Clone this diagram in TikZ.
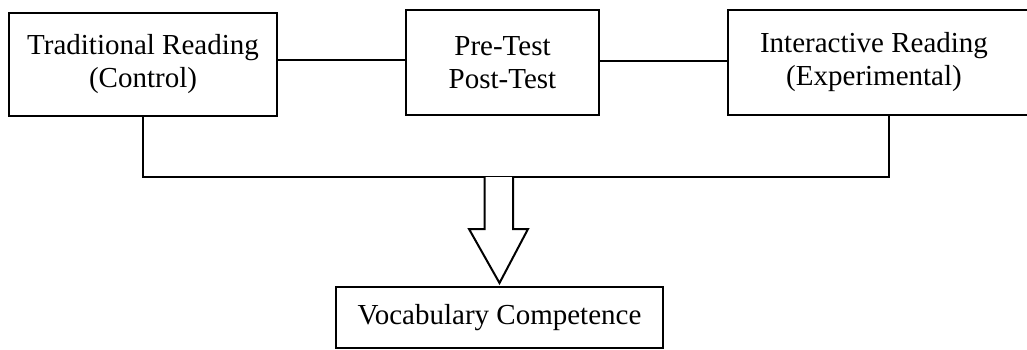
\documentclass[tikz,border=0pt]{standalone}
\usepackage{fontspec}
\setmainfont{Liberation Serif}
\begin{document}
\begin{tikzpicture}[x=1pt,y=1pt,
  box/.style={draw,line width=2.2pt,inner sep=0pt,align=center,font=\fontsize{29}{33}\selectfont},
  conn/.style={line width=2pt}]
\useasboundingbox (0,0) rectangle (1027,349);
\begin{scope}
\clip (0,0) rectangle (1027,349);
% boxes (y measured from top: y_tikz = 349 - y)
\node[box,minimum width=268pt,minimum height=103pt] (L) at (143,284.5) {Traditional Reading\\(Control)};
\node[box,minimum width=193pt,minimum height=105pt] (M) at (502.5,286.5) {Pre-Test\\Post-Test};
\node[box,minimum width=322pt,minimum height=105pt] (R) at (889,286.5) {};
\node[font=\fontsize{29}{33}\selectfont,align=center] (Rt) at (874,286.5) {Interactive Reading\\(Experimental)};
\node[box,minimum width=327pt,minimum height=61pt] (V) at (499.5,31.5) {Vocabulary Competence};
% horizontal links
\draw[conn] (L.east |- 0,289) -- (M.west |- 0,289);
\draw[conn] (M.east |- 0,288) -- (R.west |- 0,288);
% lower bracket
\coordinate (ljoin) at (143,172);
\coordinate (rjoin) at (889,172);
\draw[conn] (L.south) -- (ljoin) -- (rjoin) -- (R.south);
% hollow arrow
\draw[line width=2pt,fill=white,line join=miter]
  (484.5,172) -- (484.5,120) -- (469,120) -- (499.5,66) -- (528,120) -- (513,120) -- (513,172);
\end{scope}
\end{tikzpicture}
\end{document}
